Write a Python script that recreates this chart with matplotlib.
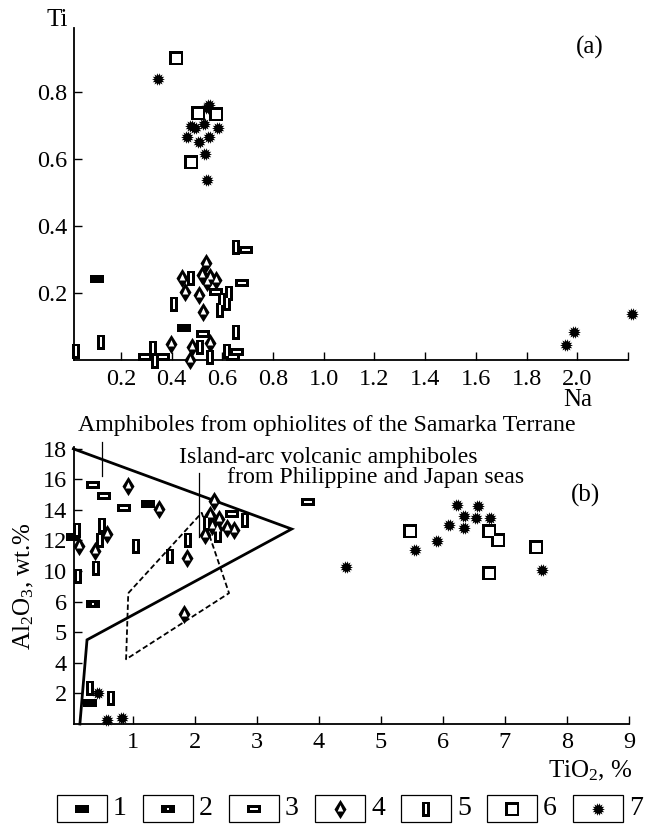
import numpy as np
import matplotlib
matplotlib.use("Agg")
import matplotlib.pyplot as plt
from matplotlib.path import Path
from matplotlib.patches import Rectangle

plt.rcParams['font.family'] = 'serif'
plt.rcParams['font.serif'] = ['Liberation Serif', 'DejaVu Serif']
plt.rcParams['mathtext.fontset'] = 'custom'
plt.rcParams['mathtext.rm'] = 'Liberation Serif'
plt.rcParams['mathtext.it'] = 'Liberation Serif:italic'

# ---------------- data: panel (a) Na vs Ti ----------------
a1_na = [0.104, 0.45]
a1_ti = [0.24, 0.095]
a3_na = [0.295, 0.367, 0.525, 0.656, 0.643, 0.577, 0.677, 0.695]
a3_ti = [0.008, 0.008, 0.075, 0.023, 0.008, 0.203, 0.228, 0.327]
a4_na = [0.396, 0.472, 0.479, 0.551, 0.442, 0.452, 0.508, 0.525, 0.518, 0.535, 0.551, 0.538, 0.574]
a4_ti = [0.045, 0.0, 0.038, 0.048, 0.243, 0.203, 0.193, 0.143, 0.253, 0.288, 0.248, 0.233, 0.238]
a5_na = [0.022, 0.121, 0.327, 0.336, 0.511, 0.551, 0.617, 0.652, 0.41, 0.475, 0.597, 0.626, 0.619, 0.59, 0.654]
a5_ti = [0.025, 0.053, 0.033, -0.003, 0.038, 0.008, 0.025, 0.081, 0.166, 0.243, 0.178, 0.198, 0.168, 0.148, 0.337]
a6_na = [0.416, 0.506, 0.574, 0.475]
a6_ti = [0.90, 0.736, 0.734, 0.59]
a7_na = [0.345, 0.548, 0.538, 0.475, 0.492, 0.528, 0.584, 0.462, 0.509, 0.548, 0.531, 0.540, 1.954, 1.987, 2.215]
a7_ti = [0.84, 0.761, 0.752, 0.698, 0.691, 0.703, 0.691, 0.666, 0.651, 0.664, 0.614, 0.537, 0.043, 0.081, 0.135]

a_xticks = [0.2, 0.4, 0.6, 0.8, 1.0, 1.2, 1.4, 1.6, 1.8, 2.0, 2.2]
a_xlabels = ['0.2', '0.4', '0.6', '0.8', '1.0', '1.2', '1.4', '1.6', '1.8', '2.0', '']
a_yticks = [0.2, 0.4, 0.6, 0.8]
a_ylabels = ['0.2', '0.4', '0.6', '0.8']

# ---------------- data: panel (b) TiO2 vs Al2O3 ----------------
b1_ti = [1.25, 0.04, 0.31]
b1_al = [14.38, 12.19, 1.35]
b2_ti = [0.35]
b2_al = [7.85]
b3_ti = [0.35, 0.53, 0.855, 2.60, 3.83]
b3_al = [15.62, 14.88, 14.12, 13.74, 14.48]
b4_ti = [0.92, 1.42, 0.13, 0.585, 0.39, 1.87, 1.82, 2.31, 2.16, 2.24, 2.39, 2.51, 2.63, 2.36, 2.27]
b4_al = [15.53, 14.05, 11.6, 12.41, 11.28, 10.84, 7.18, 14.55, 12.37, 13.68, 13.4, 12.81, 12.65, 12.74, 12.91]
b5_ti = [0.10, 0.12, 0.495, 0.47, 0.40, 1.05, 1.60, 1.89, 2.38, 2.20, 2.80, 0.30, 0.64]
b5_al = [12.7, 9.64, 13.02, 12.04, 10.19, 11.65, 10.95, 12.04, 12.37, 13.13, 13.3, 2.34, 1.68]
b6_ti = [5.47, 6.75, 6.89, 6.75, 7.50]
b6_al = [12.59, 12.59, 12.0, 9.86, 11.54]
b7_ti = [0.44, 0.585, 0.83, 4.44, 5.55, 5.90, 6.10, 6.23, 6.34, 6.34, 6.57, 6.54, 6.76, 7.59]
b7_al = [2.0, 0.26, 0.41, 10.25, 11.34, 11.93, 13.02, 14.29, 13.57, 12.81, 14.22, 13.46, 13.46, 10.08]

ophiolite_x = [0.04, 3.56, 0.26, 0.145]
ophiolite_y = [17.98, 12.74, 5.5, 0.0]
arc_x = [0.925, 2.11, 2.55, 0.89, 0.925]
arc_y = [8.55, 13.8, 8.55, 4.23, 8.55]

b_xticks = [1, 2, 3, 4, 5, 6, 7, 8, 9]
b_xlabels = ['1', '2', '3', '4', '5', '6', '7', '8', '9']
b_yticks = [2, 4, 6, 8, 10, 12, 14, 16, 18]
b_ylabels = ['2', '4', '5', '6', '10', '12', '14', '16', '18']

legend_labels = ['1', '2', '3', '4', '5', '6', '7']

# ---------------- marker shapes (pixel units) ----------------
def rect(w, h, dx=0.0, dy=0.0):
    return [(-w / 2 + dx, -h / 2 + dy), (w / 2 + dx, -h / 2 + dy),
            (w / 2 + dx, h / 2 + dy), (-w / 2 + dx, h / 2 + dy)]

def star(n, ro, ri):
    pts = []
    for k in range(2 * n):
        r = ro if k % 2 == 0 else ri
        a = np.pi * k / n
        pts.append((r * np.cos(a), r * np.sin(a)))
    return pts

diamond = [(0, 9.6), (6.0, 0), (0, -9.6), (-6.0, 0)]
tri = [(0, 4.3), (2.9, -2.0), (-2.9, -2.0)]

LAYERS = {
    1: [(rect(14.0, 8.0), 'black')],
    2: [(rect(14.0, 8.0), 'black'), (rect(2.8, 2.0), 'white')],
    3: [(rect(13.6, 8.4), 'black'), (rect(8.2, 3.0), 'white')],
    4: [(diamond, 'black'), (tri, 'white')],
    5: [(rect(7.6, 15.0), 'black'), (rect(2.8, 9.6), 'white')],
    6: [(rect(13.2, 13.2), 'black'), (rect(9.0, 9.0), 'white')],
    7: [(star(14, 6.4, 4.0), 'black')],
}

def draw(ax, x, y, kind, z=3):
    for verts, col in LAYERS[kind]:
        v = np.array(verts, dtype=float)
        m = np.abs(v).max()
        path = Path(np.vstack([v, v[:1]]), closed=True)
        ms = 2 * m * 0.72
        ax.plot(x, y, linestyle='none', marker=path, markersize=ms,
                markerfacecolor=col, markeredgewidth=0, color=col,
                zorder=z, clip_on=False)
        z += 0.01

fig = plt.figure(figsize=(6.46, 8.25), dpi=100)
W, H = 646.0, 825.0

def axes_px(l, t, r, b):
    ax = fig.add_axes([l / W, 1 - b / H, (r - l) / W, (b - t) / H])
    ax.patch.set_visible(False)
    return ax

TFS = 17.5

def style(ax, xpad):
    for s in ['top', 'right']:
        ax.spines[s].set_visible(False)
    for s in ['left', 'bottom']:
        ax.spines[s].set_linewidth(1.3)
    ax.tick_params(direction='in', length=6, width=1.0, labelsize=TFS)
    ax.tick_params(axis='x', pad=xpad)
    ax.tick_params(axis='y', pad=5)

# ---------------- panel (a) ----------------
axa = axes_px(74, 28, 628, 359.5)
style(axa, 7)
axa.set_xlim(0.015, 2.2)
axa.set_ylim(0, 0.991)
axa.set_xticks(a_xticks)
axa.set_xticklabels(a_xlabels)
axa.set_yticks(a_yticks)
axa.set_yticklabels(a_ylabels)
draw(axa, a1_na, a1_ti, 1)
draw(axa, a3_na, a3_ti, 3)
draw(axa, a5_na, a5_ti, 5)
draw(axa, a4_na, a4_ti, 4)
draw(axa, a6_na, a6_ti, 6)
draw(axa, a7_na, a7_ti, 7)

# ---------------- panel (b) ----------------
axb = axes_px(74, 447, 629, 724)
style(axb, 6)
axb.set_xlim(0.05, 9)
axb.set_ylim(0, 18.1)
axb.set_xticks(b_xticks)
axb.set_xticklabels(b_xlabels)
axb.set_yticks(b_yticks)
axb.set_yticklabels(b_ylabels)
axb.plot(ophiolite_x, ophiolite_y, color='black', lw=2.0, zorder=2,
         solid_joinstyle='miter', clip_on=False)
axb.plot(arc_x, arc_y, color='black', lw=1.3, zorder=2, dashes=(3, 1.6))
axb.plot([0.5, 0.5], [16.2, 18.4], color='black', lw=0.9, clip_on=False)
axb.plot([2.06, 2.06], [12.2, 16.4], color='black', lw=0.9, clip_on=False)
draw(axb, b1_ti, b1_al, 1)
draw(axb, b2_ti, b2_al, 2)
draw(axb, b3_ti, b3_al, 3)
draw(axb, b5_ti, b5_al, 5)
draw(axb, b4_ti, b4_al, 4)
draw(axb, b6_ti, b6_al, 6)
draw(axb, b7_ti, b7_al, 7)

# ---------------- overlay for texts and legend ----------------
ov = fig.add_axes([0, 0, 1, 1], zorder=10)
ov.set_xlim(0, W)
ov.set_ylim(H, 0)
ov.axis('off')
ov.patch.set_visible(False)

ov.text(57, 20, 'Ti', fontsize=18, ha='center', va='center')
ov.text(590, 47, '(a)', fontsize=18, ha='center', va='center')
ov.text(578, 400, 'Na', fontsize=18, ha='center', va='center')
ov.text(585, 495, '(b)', fontsize=18, ha='center', va='center')
ov.text(590, 771, 'TiO$_2$, %', fontsize=18, ha='center', va='center')
ov.text(24, 586, 'Al$_2$O$_3$, wt.%', fontsize=18, ha='center', va='center', rotation=90)
ov.text(78, 425, 'Amphiboles from ophiolites of the Samarka Terrane', fontsize=17.2, ha='left', va='center')
ov.text(179, 457, 'Island-arc volcanic amphiboles', fontsize=17.2, ha='left', va='center')
ov.text(227, 477, 'from Philippine and Japan seas', fontsize=17.2, ha='left', va='center')

for i, lab in enumerate(legend_labels):
    x0 = 57 + 86 * i
    ov.add_patch(Rectangle((x0, 795), 50, 27, facecolor='white', edgecolor='black', lw=0.9))
    draw(ov, [x0 + 25], [808.5], i + 1)
    ov.text(x0 + 56, 808.5, lab, fontsize=20, ha='left', va='center')

fig.savefig('out.png', dpi=100)
